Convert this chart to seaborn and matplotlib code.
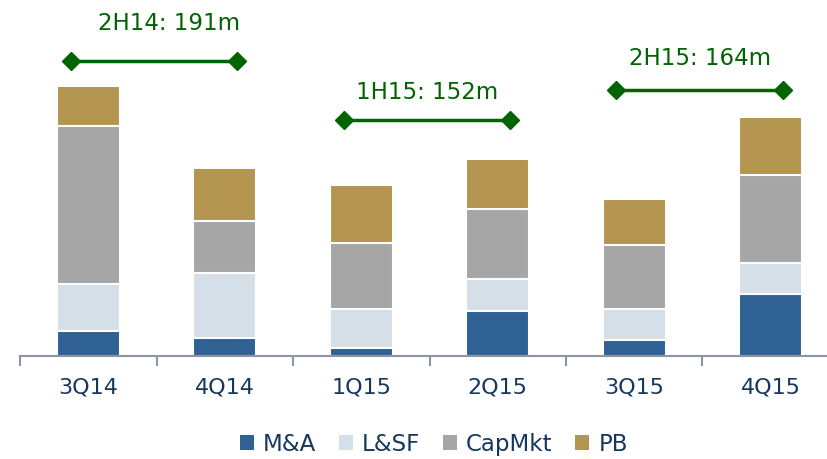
import numpy as np
import matplotlib
matplotlib.use("Agg")
import matplotlib.pyplot as plt
from matplotlib.patches import Patch
import seaborn as sns

# Data (EUR m)
quarters = ["3Q14", "4Q14", "1Q15", "2Q15", "3Q15", "4Q15"]
segments = ["M&A", "L&SF", "CapMkt", "PB"]
ma = [10.5, 7.5, 3.4, 18.5, 6.5, 25.6]
lsf = [19.2, 27.1, 16.2, 13.3, 13.2, 13.2]
capmkt = [65.6, 21.5, 27.3, 29.1, 26.3, 36.2]
pb = [16.8, 21.8, 23.9, 21.0, 19.0, 24.1]

# half-year brackets
half_labels = ["2H14: 191m", "1H15: 152m", "2H15: 164m"]
half_start = [0, 2, 4]
half_end = [1, 3, 5]
half_line_y = [122.5, 98.1, 110.4]
half_text_x = [0.59, 2.48, 4.48]
half_text_y = [138.5, 109.8, 124.1]

colors = ["#2f6195", "#d5dfe8", "#a6a6a6", "#b39550"]
green = "#006400"
navy = "#17375e"
axis_col = "#8d94a8"

sns.set_theme(style="white")
plt.rcParams["font.family"] = ["DejaVu Sans"]

fig = plt.figure(figsize=(8.28, 4.6), dpi=100)
ax = fig.add_axes([0, 1 - 357 / 460, 1, 357 / 460])

# stacked bars: draw cumulative totals from the top down
layers = np.array([ma, lsf, capmkt, pb])
cum = np.cumsum(layers, axis=0)
for i in range(len(segments) - 1, -1, -1):
    sns.barplot(x=quarters, y=cum[i], color=colors[i], width=0.46,
                edgecolor="white", linewidth=1.5, saturation=1, ax=ax)

# brackets
for lab, s, e, ly, tx, ty in zip(half_labels, half_start, half_end,
                                 half_line_y, half_text_x, half_text_y):
    ax.plot([s - 0.13, e + 0.09], [ly, ly], color=green, lw=2.5,
            marker="D", markersize=9, clip_on=False)
    ax.text(tx, ty, lab, color=green, fontsize=16.5,
            ha="center", va="center")

ax.set_xlim(-0.648, 5.42)
ax.set_ylim(0, 148.2)
ax.set_ylabel("")
ax.set_yticks([])
for sp in ["top", "right", "left"]:
    ax.spines[sp].set_visible(False)
ax.spines["bottom"].set_color(axis_col)
ax.spines["bottom"].set_linewidth(1.5)
ax.spines["bottom"].set_bounds(-0.5, 5.42)

ax.set_xticks(range(len(quarters)))
ax.set_xticklabels(quarters, color=navy, fontsize=16)
ax.tick_params(axis="x", which="major", length=0, pad=15)
ax.set_xticks(np.arange(-0.5, 5.5, 1), minor=True)
ax.tick_params(axis="x", which="minor", length=7, width=1.5,
               color=axis_col, direction="out", bottom=True)

handles = [Patch(facecolor=c, edgecolor="none") for c in colors]
fig.legend(handles, segments, loc="center", bbox_to_anchor=(0.524, 0.033),
           ncol=4, frameon=False, fontsize=16.5, handlelength=0.6,
           handleheight=0.6, handletextpad=0.4, columnspacing=1.0,
           labelcolor=navy)

fig.savefig("out.png", dpi=100)
